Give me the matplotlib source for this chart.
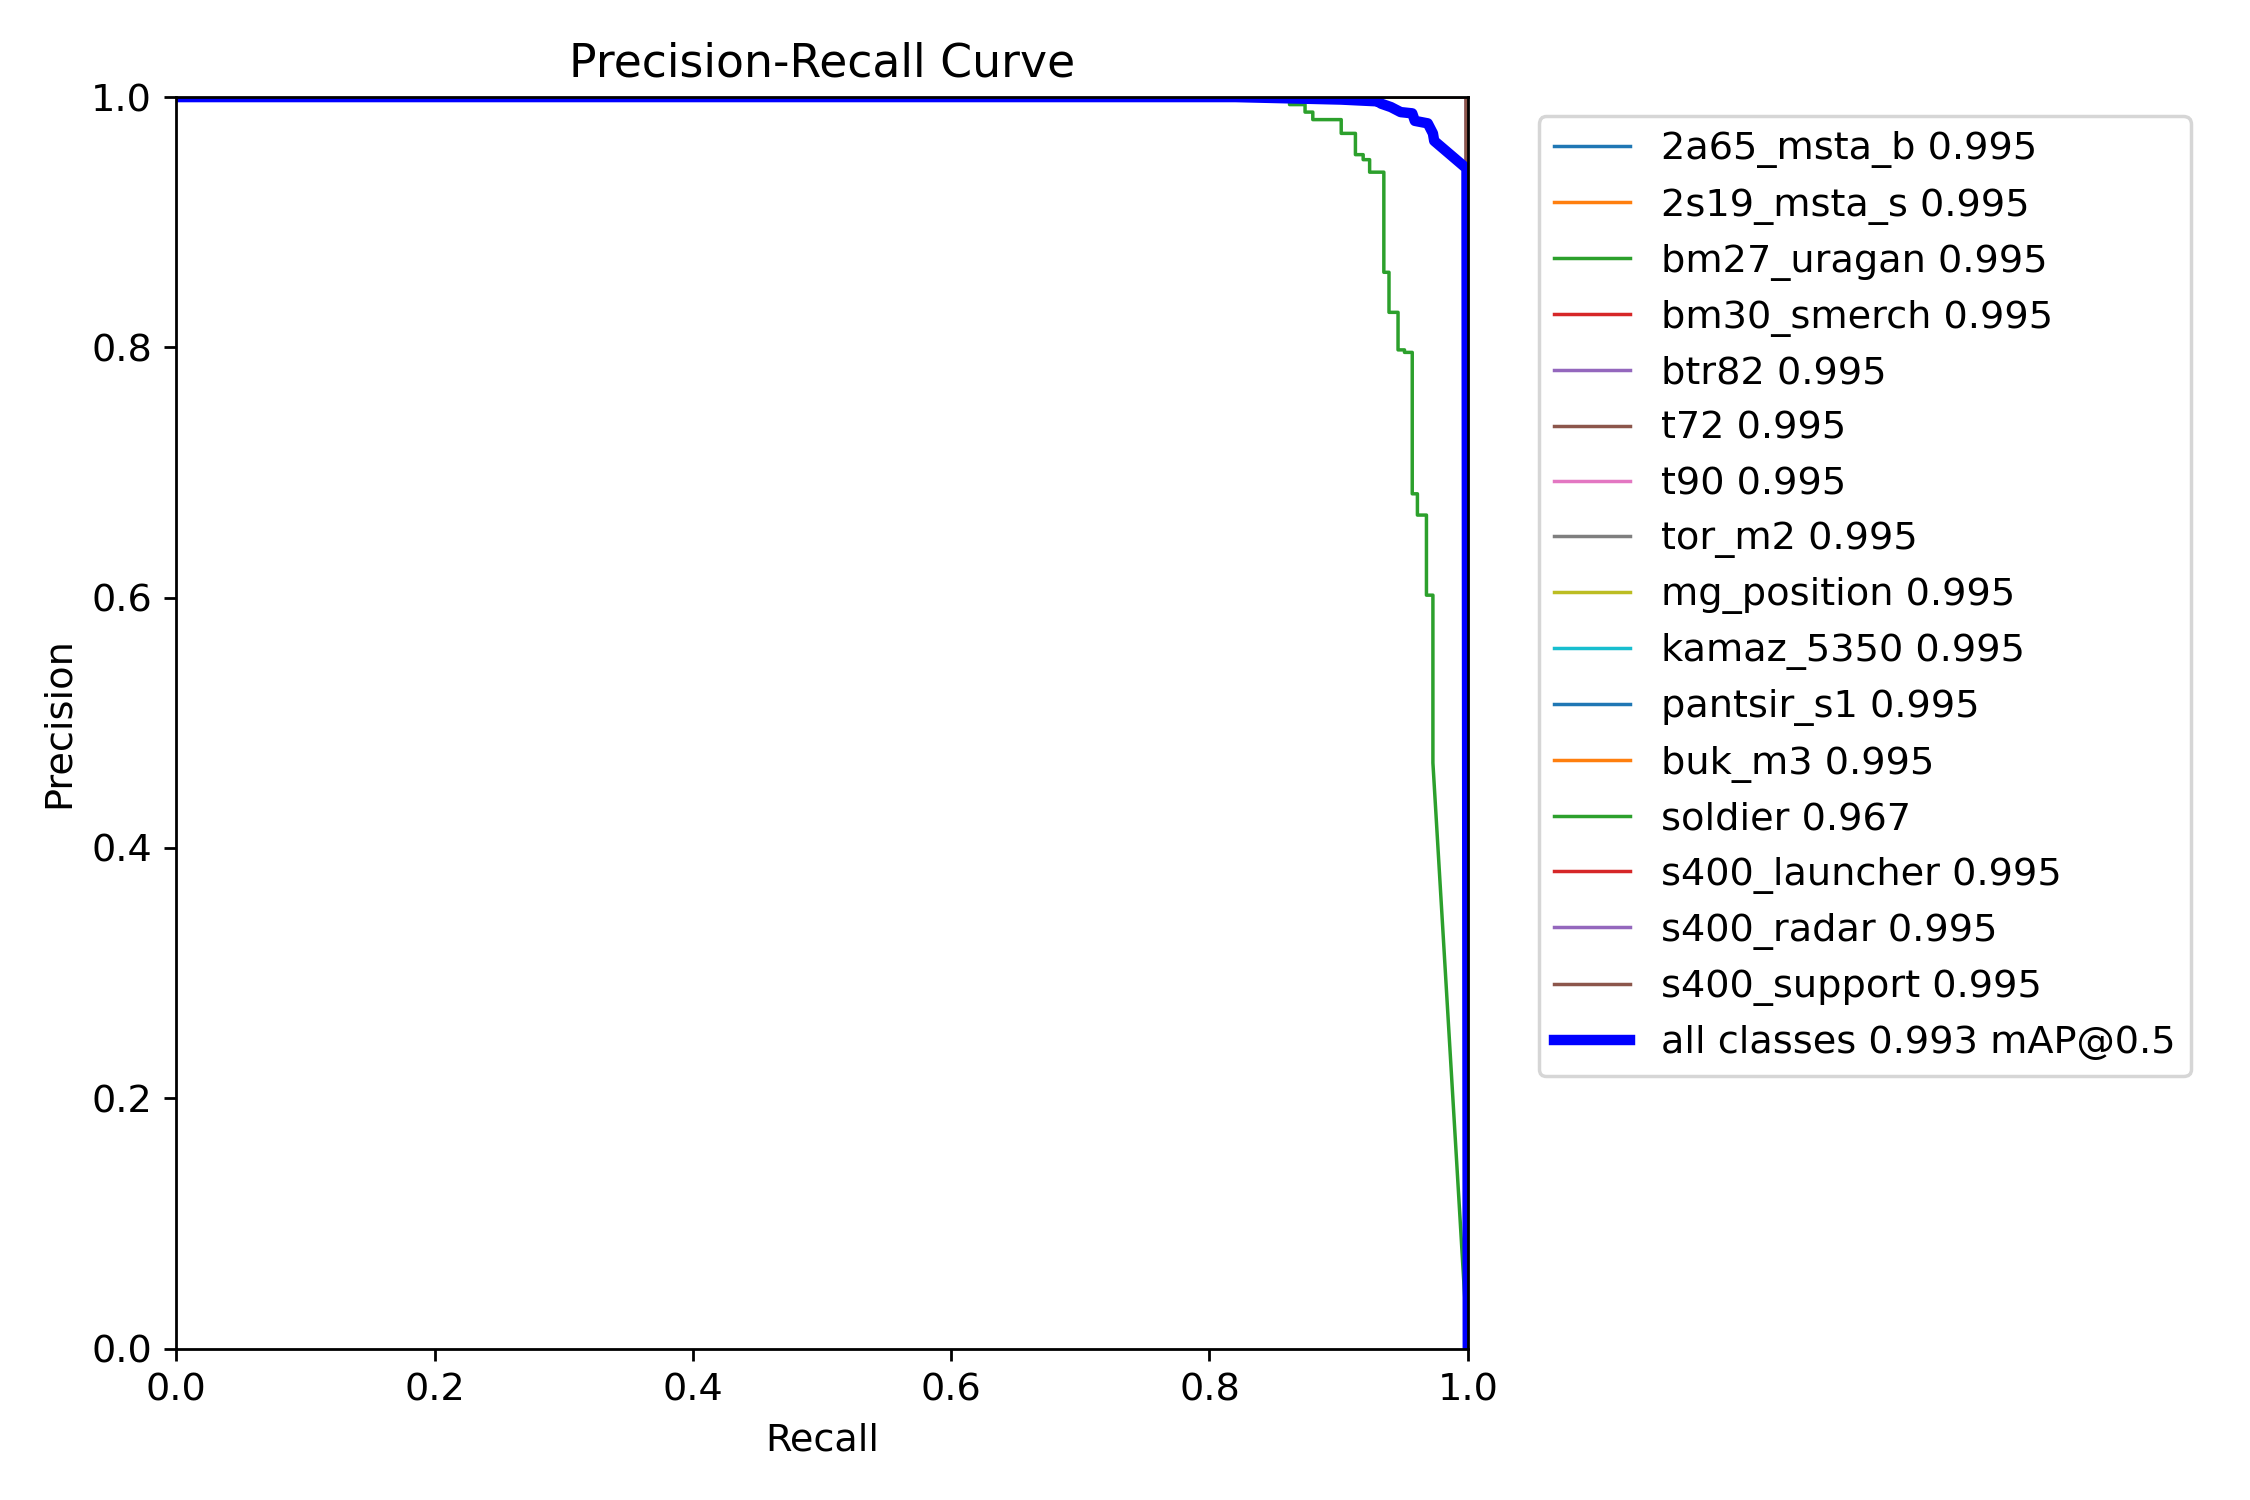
import numpy as np
import matplotlib
matplotlib.use("Agg")
import matplotlib.pyplot as plt

plt.rcParams["font.size"] = 11

# --- data ---
class_names = ["2a65_msta_b", "2s19_msta_s", "bm27_uragan", "bm30_smerch", "btr82", "t72", "t90",
               "tor_m2", "mg_position", "kamaz_5350", "pantsir_s1", "buk_m3", "soldier",
               "s400_launcher", "s400_radar", "s400_support"]
class_ap = [0.995, 0.995, 0.995, 0.995, 0.995, 0.995, 0.995, 0.995, 0.995, 0.995, 0.995, 0.995,
            0.967, 0.995, 0.995, 0.995]
map50 = 0.993

# classes with a perfect curve: precision 1 up to recall 1, then drop
perfect_recall = [0.0, 0.999, 1.0]
perfect_precision = [1.0, 1.0, 0.0]

# soldier curve (staircase near the top right)
soldier_recall = [0.0, 0.862, 0.862, 0.874, 0.874, 0.880, 0.880, 0.902, 0.902, 0.913, 0.913,
                  0.919, 0.919, 0.924, 0.924, 0.935, 0.935, 0.939, 0.939, 0.946, 0.946,
                  0.951, 0.951, 0.957, 0.957, 0.961, 0.961, 0.968, 0.968, 0.973, 0.973, 1.0]
soldier_precision = [1.0, 1.0, 0.994, 0.994, 0.988, 0.988, 0.982, 0.982, 0.971, 0.971, 0.954,
                     0.954, 0.950, 0.950, 0.940, 0.940, 0.860, 0.860, 0.828, 0.828, 0.798,
                     0.798, 0.796, 0.796, 0.683, 0.683, 0.666, 0.666, 0.602, 0.602, 0.468, 0.0]

# all-classes mean curve
all_recall = [0.0, 0.82, 0.902, 0.930, 0.933, 0.9405, 0.948, 0.957, 0.959, 0.969, 0.973, 0.974,
              0.999, 1.0]
all_precision = [1.0, 1.0, 0.998, 0.9966, 0.9947, 0.992, 0.988, 0.987, 0.981, 0.979, 0.971,
                 0.965, 0.943, 0.0]

fig, ax = plt.subplots(1, 1, figsize=(9, 6), tight_layout=True)

for name, ap in zip(class_names, class_ap):
    if name == "soldier":
        ax.plot(soldier_recall, soldier_precision, linewidth=1, label=f"{name} {ap:.3f}")
    else:
        ax.plot(perfect_recall, perfect_precision, linewidth=1, label=f"{name} {ap:.3f}")

ax.plot(all_recall, all_precision, linewidth=3, color="blue", label=f"all classes {map50:.3f} mAP@0.5")

ax.set_xlabel("Recall")
ax.set_ylabel("Precision")
ax.set_xlim(0, 1)
ax.set_ylim(0, 1)
ax.legend(bbox_to_anchor=(1.04, 1), loc="upper left")
ax.set_title("Precision-Recall Curve")

fig.savefig("out.png", dpi=250)
